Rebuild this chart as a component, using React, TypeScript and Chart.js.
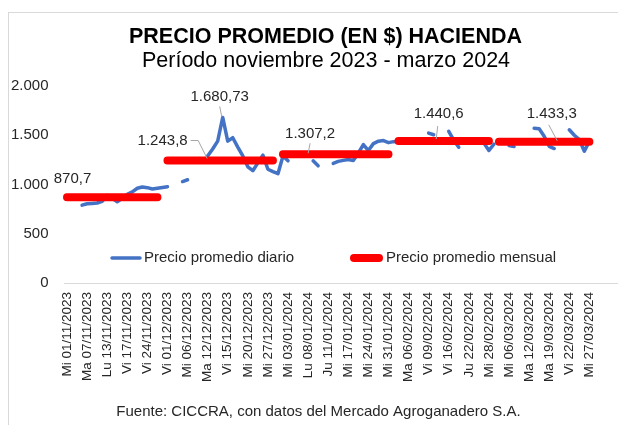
import React, { useEffect, useRef } from 'react';
import { Chart, registerables } from 'chart.js';

Chart.register(...registerables);

// ---------- DATA ----------
const titleText = 'PRECIO PROMEDIO (EN $) HACIENDA';
const subtitleText = 'Período noviembre 2023 - marzo 2024';
const footerText = 'Fuente: CICCRA, con datos del Mercado Agroganadero S.A.';
const seriesNames = ['Precio promedio diario', 'Precio promedio mensual'];

// visible date labels (one every 4 categories)
const tickLabels = [
  'Mi 01/11/2023', 'Ma 07/11/2023', 'Lu 13/11/2023', 'Vi 17/11/2023', 'Vi 24/11/2023',
  'Vi 01/12/2023', 'Mi 06/12/2023', 'Ma 12/12/2023', 'Vi 15/12/2023', 'Mi 20/12/2023',
  'Mi 27/12/2023', 'Mi 03/01/2024', 'Lu 08/01/2024', 'Ju 11/01/2024', 'Mi 17/01/2024',
  'Mi 24/01/2024', 'Mi 31/01/2024', 'Ma 06/02/2024', 'Vi 09/02/2024', 'Vi 16/02/2024',
  'Ju 22/02/2024', 'Mi 28/02/2024', 'Mi 06/03/2024', 'Ma 12/03/2024', 'Ma 19/03/2024',
  'Vi 22/03/2024', 'Mi 27/03/2024',
];
const labelEvery = 4;
const totalCategories = 110;

// daily average price (null = no market data)
const dailyPrice: (number | null)[] = [
  null, null, null, 790, 805, 808, 812, 830, 890, 860,
  825, 860, 900, 925, 962, 975, 968, 955, 962, 970,
  978, null, null, 1030, 1048, null, null, null, 1290, 1360,
  1440, 1680.73, 1440, 1475, 1380, 1290, 1180, 1140, 1220, 1298,
  1155, 1130, 1110, 1290, 1240, null, null, null, null, 1240,
  1190, null, null, 1215, 1235, 1245, 1254, 1244, 1320, 1405,
  1345, 1415, 1440, 1446, 1425, 1435, 1440, 1445, 1440, null,
  null, null, 1522, 1505, null, null, 1540, 1450, 1378, null,
  null, null, null, 1420, 1345, 1410, null, null, 1395, 1385,
  null, null, null, 1572, 1565, 1490, 1388, 1365, null, null,
  1556, 1500, 1455, 1338, 1440,
];

// monthly average price and category span of each month
const monthlyAverage = [870.7, 1243.8, 1307.2, 1440.6, 1433.3];
const monthFirstIndex = [0, 20, 43, 66, 86];
const monthLastIndex = [18, 41, 64, 84, 104];

const yMin = 0;
const yMax = 2000;
const yStep = 500;

// ---------- helpers ----------
function fmtEs(v: number): string {
  const s = String(v);
  const parts = s.split('.');
  const intS = parts[0].replace(/\B(?=(\d{3})+(?!\d))/g, '.');
  return parts[1] ? intS + ',' + parts[1] : intS;
}

const categories: string[] = [];
for (let i = 0; i < totalCategories; i++) {
  const k = i / labelEvery;
  categories.push(i % labelEvery === 0 && k < tickLabels.length ? tickLabels[k] : '');
}

const monthlySeries: (number | null)[] = categories.map(() => null);
monthlyAverage.forEach((v, m) => {
  for (let i = monthFirstIndex[m]; i <= monthLastIndex[m]; i++) monthlySeries[i] = v;
});

const FONT = '"Liberation Sans", Arial, Helvetica, sans-serif';
const BLUE = '#4472C4';
const RED = '#FF0000';
const TEXT = '#262626';

// annotation placement (dataset, category index, text offset, leader line)
type LabelSpec = {
  ds: number; idx: number; value: number; dx: number; dy: number;
  align: CanvasTextAlign; leader?: [number, number][];
};
const labelSpecs: LabelSpec[] = [
  { ds: 1, idx: monthFirstIndex[0], value: monthlyAverage[0], dx: 5.5, dy: -18.5, align: 'center' },
  { ds: 1, idx: 28, value: monthlyAverage[1], dx: -20, dy: -19.5, align: 'right',
    leader: [[-17, -20], [-9.5, -20], [-0.5, -2]] },
  { ds: 0, idx: 31, value: dailyPrice[31] as number, dx: -3, dy: -21, align: 'center',
    leader: [[-3, -11], [-1, -1]] },
  { ds: 1, idx: 48, value: monthlyAverage[2], dx: 2, dy: -20, align: 'center',
    leader: [[2, -11], [0, -1]] },
  { ds: 1, idx: 74, value: monthlyAverage[3], dx: 0, dy: -27, align: 'center',
    leader: [[-1, -15], [-2.5, -2]] },
  { ds: 1, idx: 98, value: monthlyAverage[4], dx: -7.5, dy: -28, align: 'center',
    leader: [[-10.5, -17], [-2, -1]] },
];

const decorPlugin = {
  id: 'decor',
  beforeDraw(chart: any) {
    const ctx = chart.ctx as CanvasRenderingContext2D;
    ctx.save();
    ctx.fillStyle = '#ffffff';
    ctx.fillRect(0, 0, chart.width, chart.height);
    ctx.strokeStyle = '#d9d9d9';
    ctx.lineWidth = 1;
    ctx.strokeRect(8.5, 12.5, 1000, 1000);
    ctx.restore();
  },
  afterDatasetsDraw(chart: any) {
    const ctx = chart.ctx as CanvasRenderingContext2D;
    ctx.save();
    ctx.font = `15px ${FONT}`;
    ctx.textBaseline = 'middle';
    labelSpecs.forEach((s) => {
      const el = chart.getDatasetMeta(s.ds).data[s.idx];
      if (!el) return;
      const px = el.x;
      const py = el.y;
      if (s.leader) {
        ctx.strokeStyle = '#a6a6a6';
        ctx.lineWidth = 1;
        ctx.beginPath();
        s.leader.forEach(([lx, ly], j) => {
          if (j === 0) ctx.moveTo(px + lx, py + ly);
          else ctx.lineTo(px + lx, py + ly);
        });
        ctx.stroke();
      }
      ctx.fillStyle = TEXT;
      ctx.textAlign = s.align;
      ctx.fillText(fmtEs(s.value), px + s.dx, py + s.dy);
    });
    ctx.restore();
  },
  afterDraw(chart: any) {
    const ctx = chart.ctx as CanvasRenderingContext2D;
    const area = chart.chartArea;
    ctx.save();
    // titles
    ctx.textAlign = 'center';
    ctx.textBaseline = 'middle';
    ctx.fillStyle = '#000000';
    ctx.font = `bold 21.5px ${FONT}`;
    ctx.fillText(titleText, 325.5, 37.5);
    ctx.font = `21.5px ${FONT}`;
    ctx.fillText(subtitleText, 326, 61.5);
    ctx.fillStyle = TEXT;
    ctx.font = `15px ${FONT}`;
    ctx.fillText(footerText, 318.5, 412);

    // legend inside plot
    const ly = area.bottom - 25;
    ctx.lineCap = 'round';
    ctx.strokeStyle = BLUE;
    ctx.lineWidth = 3.5;
    ctx.beginPath();
    ctx.moveTo(112, ly);
    ctx.lineTo(140, ly);
    ctx.stroke();
    ctx.strokeStyle = RED;
    ctx.lineWidth = 8;
    ctx.beginPath();
    ctx.moveTo(354, ly);
    ctx.lineTo(379, ly);
    ctx.stroke();
    ctx.fillStyle = TEXT;
    ctx.textAlign = 'left';
    ctx.font = `15px ${FONT}`;
    ctx.fillText(seriesNames[0], 144, ly);
    ctx.fillText(seriesNames[1], 386, ly);
    ctx.restore();
  },
};

export default function App() {
  const ref = useRef<HTMLCanvasElement | null>(null);

  useEffect(() => {
    if (!ref.current) return;
    const chart = new Chart(ref.current, {
      type: 'line',
      data: {
        labels: categories,
        datasets: [
          {
            label: seriesNames[0],
            data: dailyPrice,
            borderColor: BLUE,
            backgroundColor: BLUE,
            borderWidth: 3.5,
            pointRadius: 0,
            pointHoverRadius: 0,
            spanGaps: false,
            borderCapStyle: 'round',
            borderJoinStyle: 'round',
            tension: 0,
            order: 1,
          },
          {
            label: seriesNames[1],
            data: monthlySeries,
            borderColor: RED,
            backgroundColor: RED,
            borderWidth: 8,
            pointRadius: 0,
            pointHoverRadius: 0,
            spanGaps: false,
            borderCapStyle: 'round',
            borderJoinStyle: 'round',
            tension: 0,
            order: 0,
          },
        ],
      },
      options: {
        responsive: false,
        animation: false,
        devicePixelRatio: 1,
        layout: { padding: { left: 0, right: 1, top: 86, bottom: 42 } },
        plugins: {
          legend: { display: false },
          title: { display: false },
          tooltip: { enabled: false },
        },
        scales: {
          x: {
            type: 'category',
            offset: true,
            grid: { display: false, drawTicks: false },
            border: { display: true, color: '#d9d9d9', width: 1 },
            ticks: {
              autoSkip: false,
              minRotation: 90,
              maxRotation: 90,
              padding: 9,
              color: TEXT,
              font: { family: FONT, size: 13.5 },
            },
            afterFit: (scale: any) => {
              scale.height = 100;
              scale.paddingLeft = 0;
              scale.paddingRight = 0;
            },
          },
          y: {
            min: yMin,
            max: yMax,
            grid: { display: false, drawTicks: false },
            border: { display: false },
            ticks: {
              stepSize: yStep,
              padding: 16,
              color: TEXT,
              font: { family: FONT, size: 15 },
              callback: (v: any) => fmtEs(Number(v)),
            },
            afterFit: (scale: any) => {
              scale.width = 64.5;
              scale.paddingTop = 0;
              scale.paddingBottom = 0;
            },
          },
        },
      },
      plugins: [decorPlugin],
    } as any);
    return () => chart.destroy();
  }, []);

  return (
    <div style={{ position: 'absolute', left: 0, top: 0, width: 618, height: 425 }}>
      <canvas ref={ref} width={618} height={425} style={{ display: 'block' }} />
    </div>
  );
}
